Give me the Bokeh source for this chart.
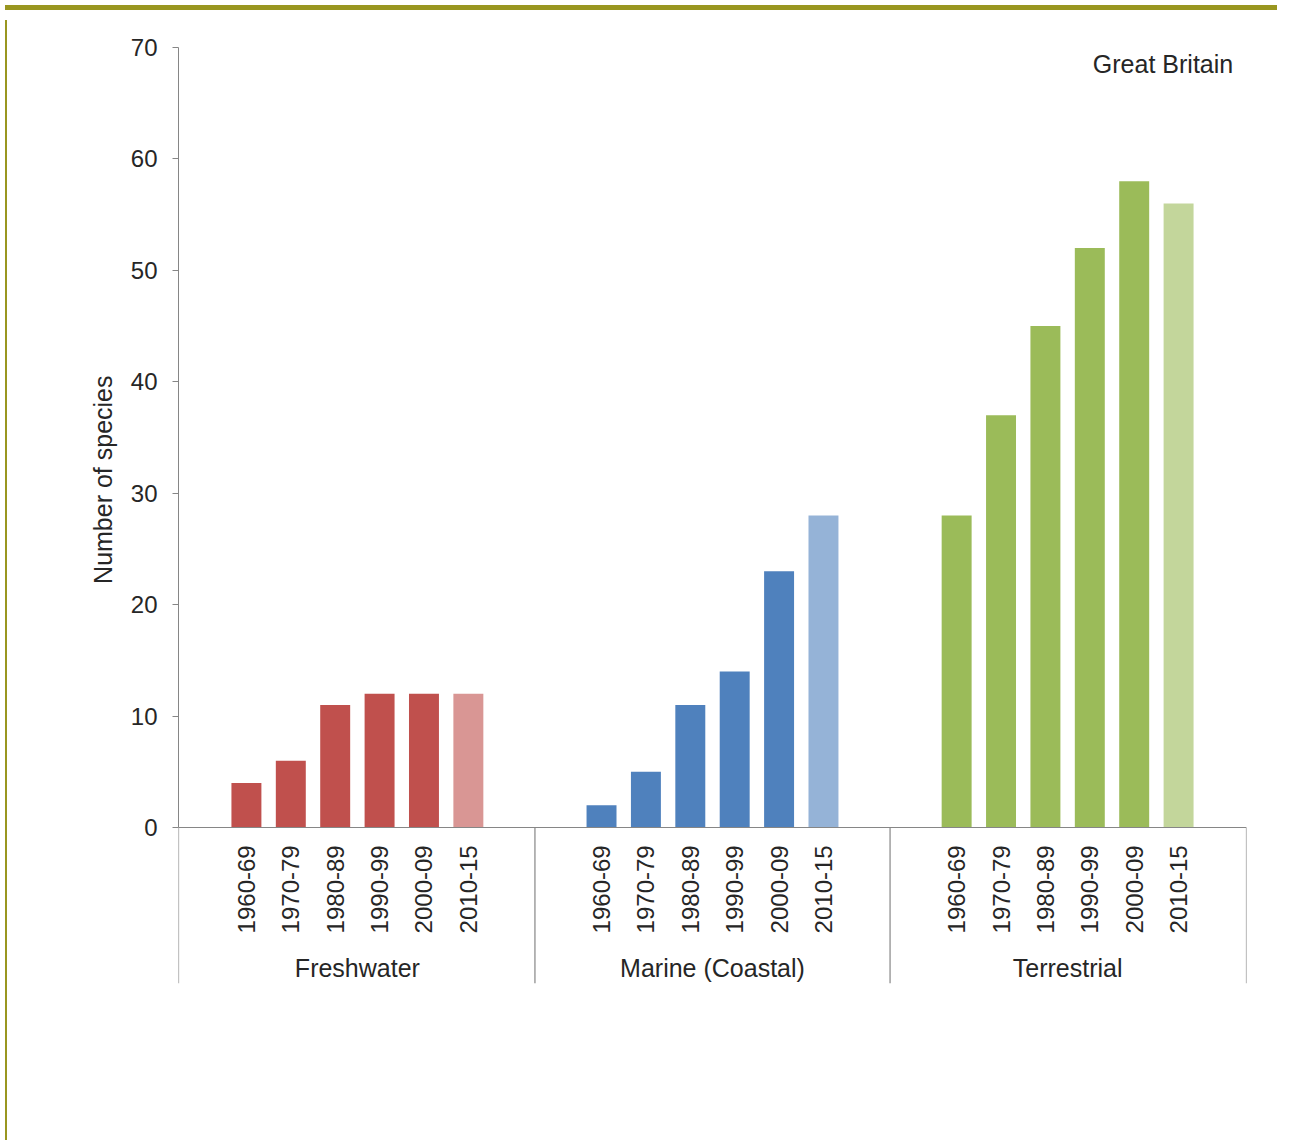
import math
from bokeh.plotting import figure
from bokeh.models import ColumnDataSource, Range1d, FixedTicker, Span, Div, Title
from bokeh.layouts import column, row
from bokeh.core.properties import value
from bokeh.embed import file_html
from bokeh.resources import INLINE

# ---- data ----
groups = ["Freshwater", "Marine (Coastal)", "Terrestrial"]
periods = ["1960-69", "1970-79", "1980-89", "1990-99", "2000-09", "2010-15"]
freshwater = [4, 6, 11, 12, 12, 12]
marine = [2, 5, 11, 14, 23, 28]
terrestrial = [28, 37, 45, 52, 58, 56]
y_ticks = [0, 10, 20, 30, 40, 50, 60, 70]
region_label = "Great Britain"
y_title = "Number of species"

# ---- styling ----
FONT = value("Liberation Sans")
TXT = "#262626"
AX = "#868686"
dark_cols = ["#C0504D", "#4F81BD", "#9BBB59"]
light_cols = ["#D99694", "#95B3D7", "#C3D69B"]
slots = 8  # category slots per group (first and last empty)

series = [freshwater, marine, terrestrial]
xs, tops, cols, labs = [], [], [], []
for g, vals in enumerate(series):
    for i, v in enumerate(vals):
        xs.append(g * slots + 1.5 + i)
        tops.append(v)
        cols.append(light_cols[g] if i == len(vals) - 1 else dark_cols[g])
        labs.append(periods[i])
src = ColumnDataSource(dict(x=xs, top=tops, color=cols, lab=labs))

x_end = slots * len(groups)
xr = Range1d(-0.03, x_end + 0.03)
yr = Range1d(-14, 70)

W, H = 1270, 1120
p = figure(width=W, height=H, x_range=xr, y_range=yr,
           output_backend="svg", toolbar_location=None,
           x_axis_location=None,
           min_border_left=166, min_border_right=36,
           min_border_top=32, min_border_bottom=152)
p.outline_line_color = None
p.xgrid.visible = False
p.ygrid.visible = False
p.background_fill_color = "white"
p.border_fill_color = "white"

p.vbar(x="x", top="top", width=0.675, fill_color="color", line_color=None, source=src)

# rotated period labels
p.text(x="x", y=-1.6, text="lab", source=src, angle=math.pi / 2,
       text_font=FONT, text_font_size="24px", text_color=TXT,
       text_align="right", text_baseline="middle")

# group labels
gsrc = ColumnDataSource(dict(x=[g * slots + slots / 2 for g in range(len(groups))],
                             name=groups))
p.text(x="x", y=-12.65, text="name", source=gsrc,
       text_font=FONT, text_font_size="25px", text_color=TXT,
       text_align="center", text_baseline="middle")

# x axis line and group separators
p.add_layout(Span(location=0, dimension="width", line_color=AX, line_width=1))
edges = [xr.start] + [g * slots for g in range(1, len(groups))] + [xr.end]
p.segment(x0=edges, y0=[0] * len(edges), x1=edges, y1=[yr.start] * len(edges),
          line_color=AX, line_width=1.2)

# region label
p.text(x=[23.73], y=[68.5], text=[region_label], text_font=FONT,
       text_font_size="25px", text_color=TXT, text_align="right",
       text_baseline="middle")

# y axis
ya = p.yaxis[0]
ya.bounds = (0, 70)
ya.ticker = FixedTicker(ticks=y_ticks)
ya.minor_tick_line_color = None
ya.major_tick_in = 0
ya.major_tick_out = 6
ya.major_tick_line_color = AX
ya.axis_line_color = AX
ya.major_label_standoff = 15
ya.major_label_text_font = "Liberation Sans"
ya.major_label_text_font_size = "24px"
ya.major_label_text_color = TXT

# y axis title
p.add_layout(Title(text=y_title, align="right", offset=328, standoff=22,
                   text_font="Liberation Sans", text_font_size="25px",
                   text_font_style="normal", text_color=TXT), "left")

OLIVE = "#999620"
top_band = Div(width=W + 2, height=5, styles={"background-color": OLIVE})
left_line = Div(width=2, height=H, styles={"background-color": OLIVE})
layout = column(top_band, row(left_line, p, spacing=0), spacing=0)

open("out.html", "w").write(file_html(layout, INLINE))
